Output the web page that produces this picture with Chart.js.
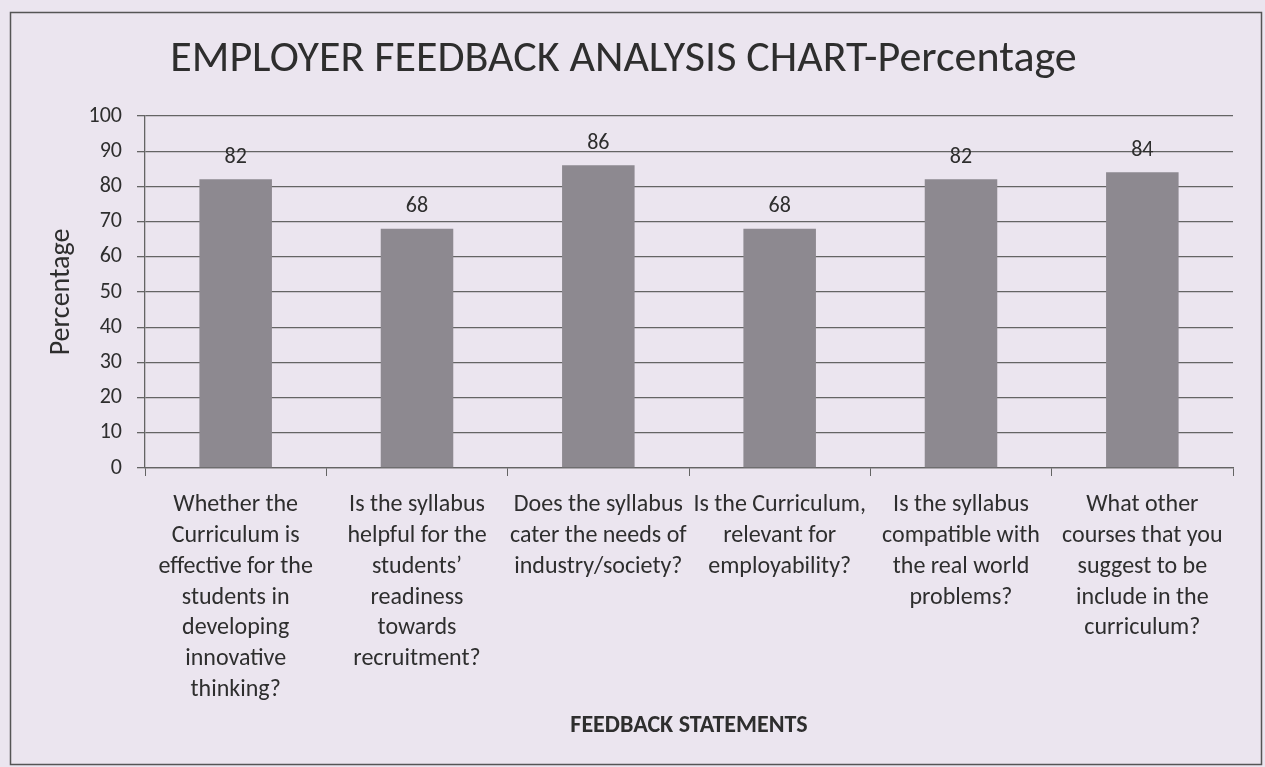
<!DOCTYPE html>
<html>
<head>
<meta charset="utf-8">
<title>Employer Feedback Analysis Chart</title>
<script src="https://cdn.jsdelivr.net/npm/chart.js@4.4.1/dist/chart.umd.min.js"></script>
<style>
    html, body { margin: 0; padding: 0; background: #ebe5ef; }
    #wrap { position: relative; width: 1265px; height: 767px; }
</style>
</head>
<body>
<div id="wrap"><canvas id="chart" width="1265" height="767"></canvas></div>
<script>
// chart data
const categories = [
    ['Whether the', 'Curriculum is', 'effective for the', 'students in', 'developing', 'innovative', 'thinking?'],
    ['Is the syllabus', 'helpful for the', 'students\u2019', 'readiness', 'towards', 'recruitment?'],
    ['Does the syllabus', 'cater the needs of', 'industry/society?'],
    ['Is the Curriculum,', 'relevant for', 'employability?'],
    ['Is the syllabus', 'compatible with', 'the real world', 'problems?'],
    ['What other', 'courses that you', 'suggest to be', 'include in the', 'curriculum?']
];
const percentages = [82, 68, 86, 68, 82, 84];
const yTicks = [0, 10, 20, 30, 40, 50, 60, 70, 80, 90, 100];

const FONT = 'Carlito, Calibri, Lato, sans-serif';
const COLORS = {
    bar: '#8d8990',
    grid: '#646464',
    text: '#2e2e2e',
    border: '#555555'
};

// value labels above each bar
const valueLabels = {
    id: 'valueLabels',
    afterDatasetsDraw(chart) {
        const ctx = chart.ctx;
        const meta = chart.getDatasetMeta(0);
        ctx.save();
        ctx.font = '22px ' + FONT;
        ctx.fillStyle = COLORS.text;
        ctx.textAlign = 'center';
        ctx.textBaseline = 'middle';
        meta.data.forEach((bar, i) => {
            ctx.fillText(String(percentages[i]), bar.x, bar.y - 22);
        });
        ctx.restore();
    }
};

// outer chart frame
const frame = {
    id: 'frame',
    beforeDraw(chart) {
        const ctx = chart.ctx;
        ctx.save();
        ctx.strokeStyle = COLORS.border;
        ctx.lineWidth = 1.5;
        ctx.strokeRect(10.5, 12.5, 1251, 752);
        ctx.restore();
    }
};

new Chart(document.getElementById('chart'), {
    type: 'bar',
    data: {
        labels: categories,
        datasets: [{
            label: 'Percentage',
            data: percentages,
            backgroundColor: COLORS.bar,
            barPercentage: 0.4,
            categoryPercentage: 1.0
        }]
    },
    options: {
        responsive: false,
        animation: false,
        layout: { padding: { left: 14, right: 32, top: 0, bottom: 20 } },
        plugins: {
            legend: { display: false },
            tooltip: { enabled: false },
            title: {
                display: true,
                text: 'EMPLOYER FEEDBACK ANALYSIS CHART-Percentage',
                color: COLORS.text,
                font: { family: FONT, size: 44, weight: 'normal', lineHeight: 1.0 },
                padding: { top: 38, bottom: 34 }
            }
        },
        scales: {
            x: {
                grid: { display: true, drawOnChartArea: false, drawTicks: true, tickLength: 8, color: COLORS.grid, offset: true },
                border: { display: true, color: COLORS.grid, width: 1.3 },
                ticks: {
                    color: COLORS.text,
                    font: { family: FONT, size: 24, lineHeight: 1.28 },
                    padding: 14,
                    maxRotation: 0,
                    minRotation: 0,
                    autoSkip: false
                },
                title: {
                    display: true,
                    text: 'FEEDBACK STATEMENTS',
                    color: COLORS.text,
                    font: { family: FONT, size: 24, weight: 'bold', lineHeight: 1.2 },
                    padding: { top: 0, bottom: 7 }
                },
                afterFit: s => { s.height = 279; }
            },
            y: {
                min: 0,
                max: 100,
                afterBuildTicks: s => { s.ticks = yTicks.map(v => ({ value: v })); },
                grid: { color: COLORS.grid, lineWidth: 1.3, tickLength: 8 },
                border: { display: true, color: COLORS.grid, width: 1.3 },
                ticks: {
                    color: COLORS.text,
                    font: { family: FONT, size: 22 },
                    padding: 15
                },
                title: {
                    display: true,
                    text: 'Percentage',
                    color: COLORS.text,
                    font: { family: FONT, size: 28, weight: 'normal', lineHeight: 1.2 },
                    padding: { top: 31, bottom: 0 }
                },
                afterFit: s => { s.width = 131; }
            }
        }
    },
    plugins: [frame, valueLabels]
});
</script>
</body>
</html>
